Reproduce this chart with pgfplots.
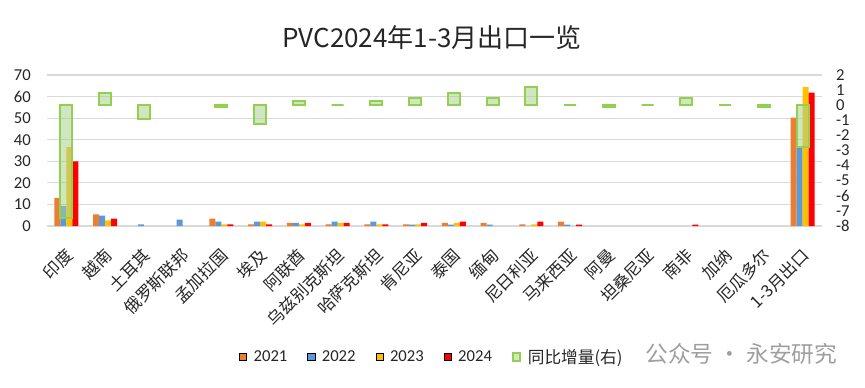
\documentclass[border=0pt]{standalone}
\usepackage{pgfplots}
\pgfplotsset{compat=1.18}
\usepackage{fontspec}
\setmainfont{Carlito}
\newfontfamily\cjk{Noto Sans CJK SC}
\definecolor{c21}{HTML}{ED7D31}
\definecolor{c22}{HTML}{5B9BD5}
\definecolor{c23}{HTML}{FFC000}
\definecolor{c24}{HTML}{FF0000}
\definecolor{gfill}{HTML}{A9D18E}
\definecolor{gline}{HTML}{92D050}
\definecolor{gridc}{HTML}{D9D9D9}
\definecolor{txt}{HTML}{262626}
\begin{document}
\begin{tikzpicture}
\useasboundingbox (0pt,0pt) rectangle (648.75pt,290.25pt);
\node[font=\cjk\fontsize{19.5}{20}\selectfont, text=txt] at (324pt,261.75pt) {PVC2024年1-3月出口一览};
\node[font=\cjk\fontsize{17}{18}\selectfont, text=black!38, anchor=east, inner sep=0pt] at (628pt,25pt) {公众号 · 永安研究};
\begin{axis}[
  at={(35.25pt,120.75pt)}, anchor=south west,
  scale only axis, width=581.25pt, height=113.25pt,
  xmin=-0.5, xmax=19.5, ymin=0, ymax=70,
  ytick={0,10,...,70},
  ymajorgrids, grid style={draw=gridc, line width=0.8pt},
  axis y line*=left, axis x line*=bottom,
  y axis line style={draw=none},
  x axis line style={draw=gridc, line width=0.8pt, -},
  tick style={draw=none},
  xtick={0,...,19},
  xticklabels={印度,越南,土耳其,俄罗斯联邦,孟加拉国,埃及,阿联酋,乌兹别克斯坦,哈萨克斯坦,肯尼亚,泰国,缅甸,尼日利亚,马来西亚,阿曼,坦桑尼亚,南非,加纳,厄瓜多尔,{1-3月出口}},
  xticklabel style={font=\cjk\fontsize{12.5}{14}\selectfont, text=txt, xshift=5pt, yshift=-13pt, rotate=45, anchor=east},
  yticklabel style={font=\fontsize{12.5}{14}\selectfont, text=txt, anchor=east, inner sep=0pt, xshift=-12pt},
  /pgf/number format/assume math mode=true,
  ybar=0pt, bar width=4.5pt,
]
\addplot[fill=c21, draw=none] coordinates {(0,13.0) (1,5.4) (4,3.4) (5,0.8) (6,1.4) (7,0.8) (8,0.8) (9,0.8) (10,1.4) (11,1.4) (12,0.8) (13,2.0) (19,50.3)};
\addplot[fill=c22, draw=none] coordinates {(0,9.3) (1,4.8) (2,0.8) (3,2.9) (4,2.0) (5,2.0) (6,1.4) (7,2.0) (8,2.0) (9,0.6) (10,0.6) (11,0.6) (13,0.6) (19,36.3)};
\addplot[fill=c23, draw=none] coordinates {(0,36.6) (1,2.6) (4,0.8) (5,2.0) (6,0.8) (7,1.4) (8,0.8) (9,0.8) (10,1.4) (12,0.8) (19,64.4)};
\addplot[fill=c24, draw=none] coordinates {(0,30.0) (1,3.4) (4,0.8) (5,0.8) (6,1.4) (7,1.4) (8,0.8) (9,1.4) (10,2.0) (12,2.0) (13,0.6) (16,0.6) (19,61.8)};
\end{axis}
\begin{axis}[
  at={(35.25pt,120.75pt)}, anchor=south west,
  scale only axis, width=581.25pt, height=113.25pt,
  xmin=-0.5, xmax=19.5, ymin=-8, ymax=2,
  ytick={-8,...,2},
  axis y line*=right, axis x line=none,
  y axis line style={draw=none},
  tick style={draw=none},
  yticklabel shift=7pt,
  yticklabel style={font=\fontsize{12.5}{14}\selectfont, text=txt},
  /pgf/number format/assume math mode=true,
  ybar=0pt, bar width=9pt,
  legend columns=5,
  legend style={at={(0.497,-0.868)}, anchor=center, draw=none, fill=none,
    font=\fontsize{12.5}{14}\selectfont, text=txt,
    /tikz/every odd column/.append style={column sep=3pt},
    /tikz/every even column/.append style={column sep=13pt}},
  legend image code/.code={\draw[#1] (0pt,-2.7pt) rectangle (5.4pt,2.7pt);},
]
\addlegendimage{fill=c21, draw=none}
\addlegendentry{2021}
\addlegendimage{fill=c22, draw=none}
\addlegendentry{2022}
\addlegendimage{fill=c23, draw=none}
\addlegendentry{2023}
\addlegendimage{fill=c24, draw=none}
\addlegendentry{2024}
\addplot[fill=gfill, fill opacity=0.55, draw=gline, line width=1.5pt] coordinates {(0,-7.5) (1,0.8) (2,-0.9) (4,-0.1) (5,-1.25) (6,0.3) (7,0) (8,0.3) (9,0.5) (10,0.8) (11,0.5) (12,1.2) (13,0) (14,-0.1) (15,0) (16,0.5) (17,0) (18,-0.1) (19,-2.8)};
\addlegendentry{\cjk 同比增量(右)}
\end{axis}
\end{tikzpicture}
\end{document}
